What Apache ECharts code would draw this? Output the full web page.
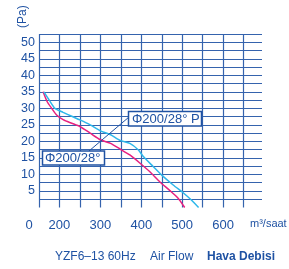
<!DOCTYPE html>
<html>
<head>
<meta charset="utf-8">
<script src="https://cdn.jsdelivr.net/npm/echarts@6/dist/echarts.min.js"></script>
<style>
  html, body { margin: 0; padding: 0; background: #fff; }
  #chart { width: 289px; height: 269px; }
</style>
</head>
<body>
<div id="chart"></div>
<script>
// Φ200/28° (pembe) ve Φ200/28° P (mavi) egrileri, debi m3/saat - basinc Pa
const flowPink = [160, 170, 181, 193, 210, 230, 250, 275, 300, 325, 348, 372, 397, 421, 445, 470, 490, 506]
const pressPink = [35, 32, 30, 28, 26.5, 25.5, 24.5, 22.5, 20.5, 19.4, 17.7, 15.9, 13.4, 10.8, 7.8, 5.1, 2.8, 0]
const flowCyan = [162, 175, 189, 209, 230, 250, 275, 300, 325, 348, 372, 393, 405, 429, 450, 478, 503, 523, 540]
const pressCyan = [35, 32.5, 30, 28.8, 27.6, 26.5, 25, 23.2, 22, 20.3, 19.4, 17.4, 15.4, 12.4, 9.8, 6.8, 4.4, 2.2, 0]
const xTickLabels = [200, 300, 400, 500, 600]
const yTickLabels = [5, 10, 15, 20, 25, 30, 35, 40, 45, 50]

const blue = '#1f52a3'
const gridColor = '#3563ad'

const myChart = echarts.init(document.getElementById('chart'), null, { renderer: 'canvas' })

const toPairs = (xs, ys) => xs.map((x, i) => [x, ys[i]])

const lineCfg = {
  type: 'line',
  smooth: 0.2,
  symbol: 'none',
  z: 3
}

const option = {
  animation: false,
  grid: {
    left: 39,
    top: 34,
    right: 27,
    bottom: 61.5
  },
  xAxis: {
    type: 'value',
    min: 150,
    max: 695,
    interval: 50,
    axisLine: { show: false },
    axisTick: { show: false },
    axisLabel: {
      margin: 11,
      fontSize: 13,
      fontFamily: 'Liberation Sans',
      color: blue,
      formatter: (v) => (xTickLabels.includes(v) ? String(v) : '')
    },
    splitLine: {
      show: true,
      showMaxLine: false,
      lineStyle: { color: gridColor, width: 1.2 }
    }
  },
  yAxis: {
    type: 'value',
    min: 0,
    max: 52.5,
    interval: 2.5,
    axisLine: { show: false },
    axisTick: { show: false },
    axisLabel: {
      margin: 4,
      fontSize: 12.5,
      fontFamily: 'Liberation Sans',
      color: blue,
      formatter: (v) => (yTickLabels.includes(v) ? String(v) : '')
    },
    splitLine: {
      show: true,
      showMinLine: false,
      lineStyle: { color: gridColor, width: 1.2 }
    }
  },
  series: [
    {
      name: 'Φ200/28°',
      color: '#e8217f',
      lineStyle: { width: 1.5 },
      data: toPairs(flowPink, pressPink),
      ...lineCfg
    },
    {
      name: 'Φ200/28° P',
      color: '#2db7ea',
      lineStyle: { width: 1.5 },
      data: toPairs(flowCyan, pressCyan),
      ...lineCfg
    }
  ],
  graphic: [
    // eksen basliklari
    {
      type: 'text',
      x: 17,
      y: 28,
      rotation: Math.PI / 2,
      style: { text: '(Pa)', font: '12px "Liberation Sans"', fill: blue }
    },
    {
      type: 'text',
      x: 29,
      y: 225,
      style: { text: '0', font: '13px "Liberation Sans"', fill: blue, align: 'center', verticalAlign: 'middle' }
    },
    {
      type: 'text',
      x: 250,
      y: 224,
      style: { text: 'm³/saat', font: '11px "Liberation Sans"', fill: blue, verticalAlign: 'middle' }
    },
    // alt baslik
    {
      type: 'text',
      x: 55,
      y: 257,
      style: { text: 'YZF6–13 60Hz', font: '12px "Liberation Sans"', fill: blue, verticalAlign: 'middle' }
    },
    {
      type: 'text',
      x: 150,
      y: 257,
      style: { text: 'Air Flow', font: '12px "Liberation Sans"', fill: blue, verticalAlign: 'middle' }
    },
    {
      type: 'text',
      x: 207,
      y: 257,
      style: { text: 'Hava Debisi', font: 'bold 12px "Liberation Sans"', fill: blue, verticalAlign: 'middle' }
    },
    // etiket cizgisi
    {
      type: 'line',
      z: 5,
      shape: { x1: 89, y1: 151, x2: 129, y2: 117 },
      style: { stroke: blue, lineWidth: 1 }
    },
    // kutular
    {
      type: 'rect',
      z: 6,
      shape: { x: 128.5, y: 111.5, width: 73, height: 14.5 },
      style: { fill: '#fff', stroke: blue, lineWidth: 1.5 }
    },
    {
      type: 'text',
      z: 7,
      x: 132,
      y: 119,
      style: { text: 'Φ200/28° P', font: '13px "Liberation Sans"', fill: blue, verticalAlign: 'middle' }
    },
    {
      type: 'rect',
      z: 6,
      shape: { x: 42.5, y: 151, width: 62, height: 14 },
      style: { fill: '#fff', stroke: blue, lineWidth: 1.5 }
    },
    {
      type: 'text',
      z: 7,
      x: 45,
      y: 158.5,
      style: { text: 'Φ200/28°', font: '13px "Liberation Sans"', fill: blue, verticalAlign: 'middle' }
    }
  ]
}

myChart.setOption(option)
</script>
</body>
</html>
